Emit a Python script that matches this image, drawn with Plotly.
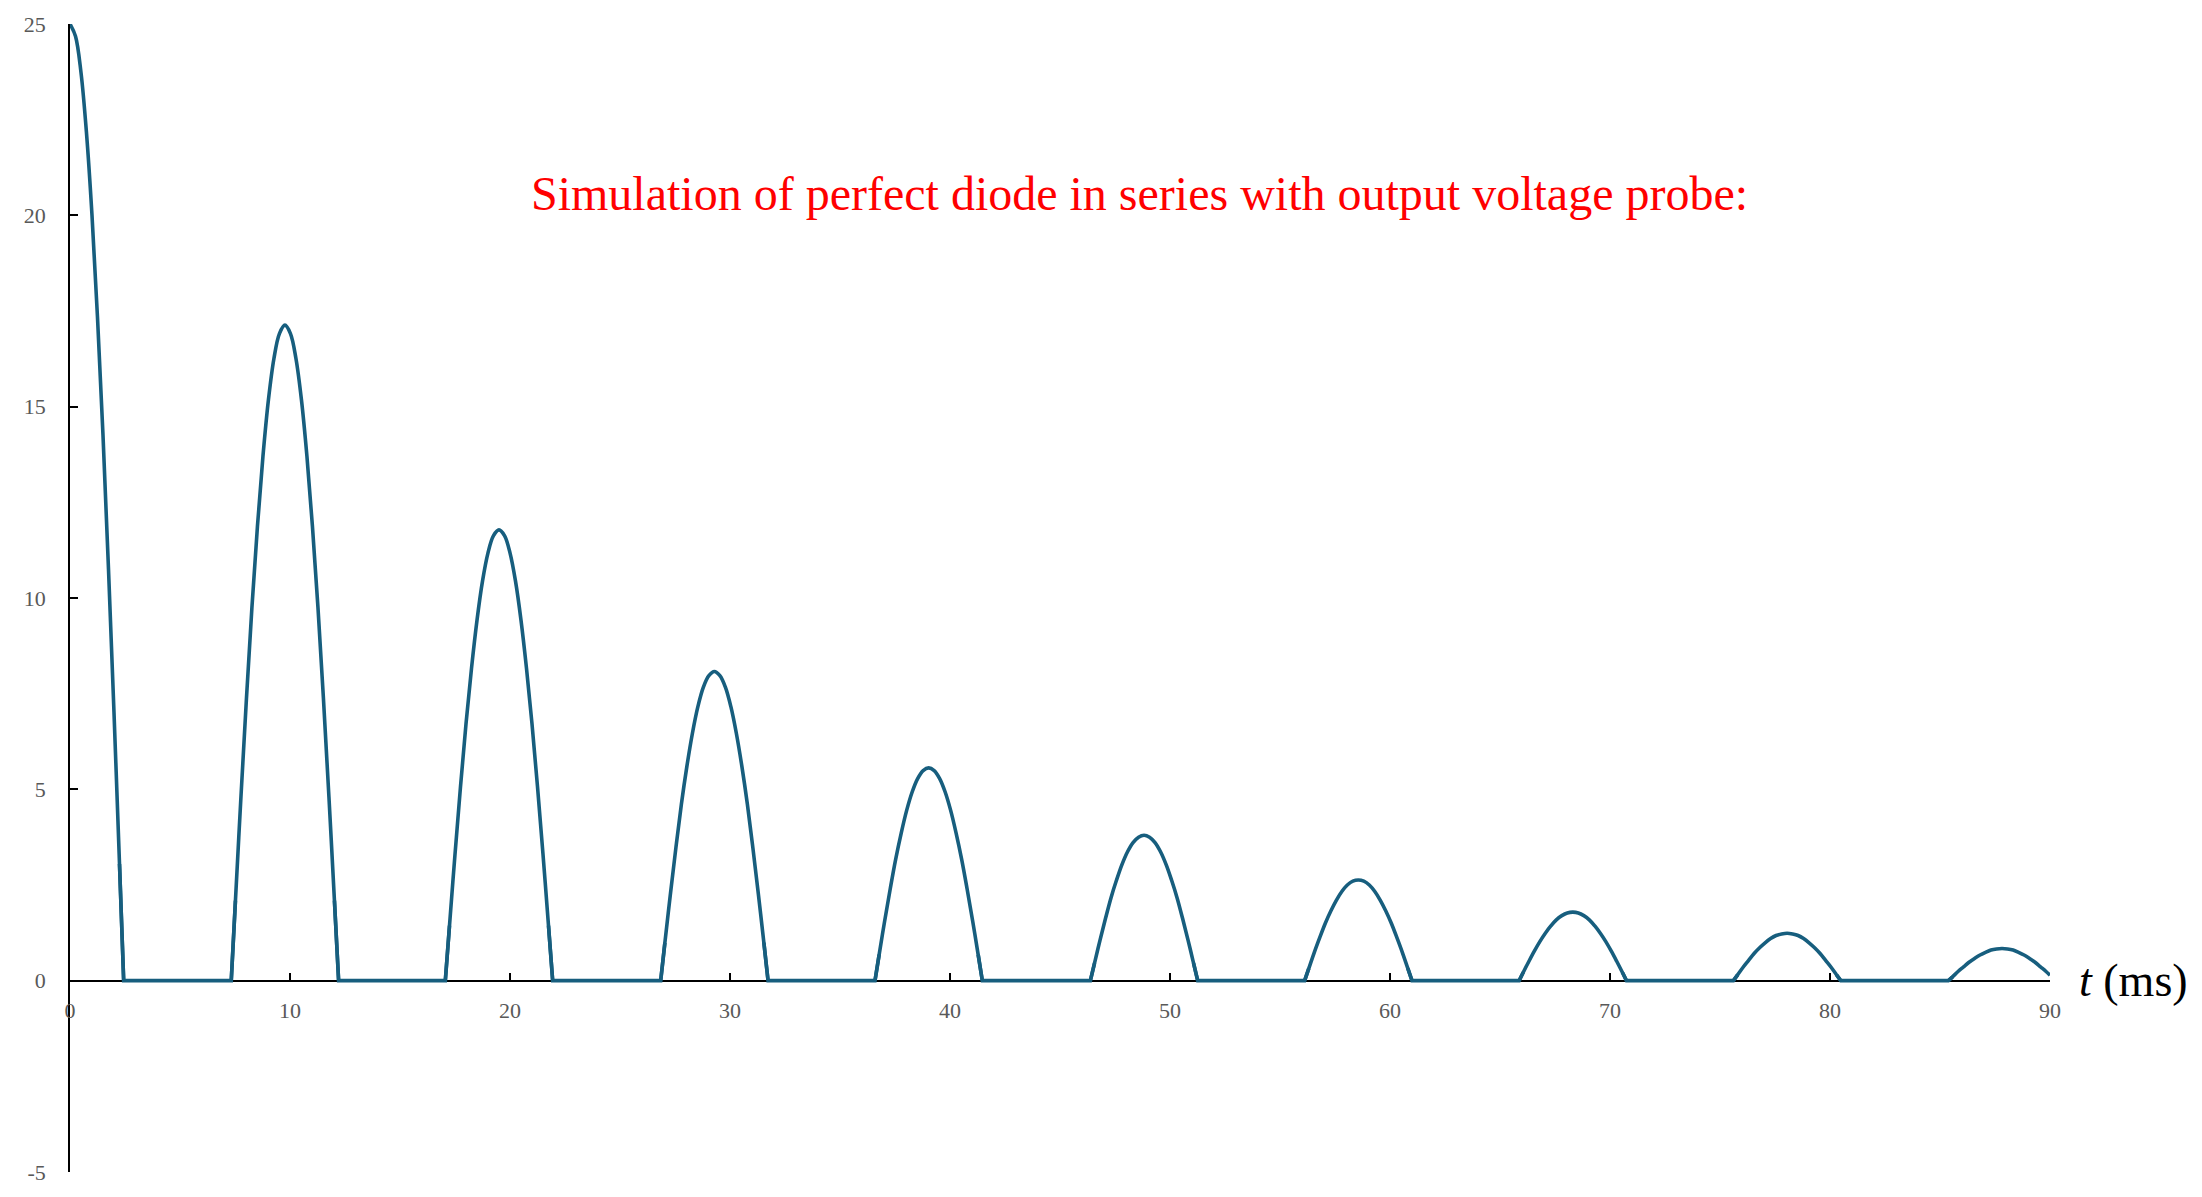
import plotly.graph_objects as go

t_ms = [
    0.00, 0.25, 0.50, 0.75, 1.00, 1.25, 1.50, 1.75, 2.00, 2.25, 2.44,
    7.33, 7.52, 7.77, 8.02, 8.27, 8.52, 8.77, 9.02, 9.27, 9.52, 9.77, 10.02, 10.27, 10.52, 10.77, 11.02, 11.27, 11.52, 11.77, 12.02, 12.21,
    17.06, 17.25, 17.50, 17.75, 18.00, 18.25, 18.50, 18.75, 19.00, 19.25, 19.50, 19.75, 20.00, 20.25, 20.50, 20.75, 21.00, 21.25, 21.50, 21.75, 21.94,
    26.85, 27.04, 27.29, 27.54, 27.79, 28.04, 28.29, 28.54, 28.79, 29.04, 29.29, 29.54, 29.79, 30.04, 30.29, 30.54, 30.79, 31.04, 31.29, 31.54, 31.73,
    36.59, 36.78, 37.03, 37.28, 37.53, 37.78, 38.03, 38.28, 38.53, 38.78, 39.03, 39.28, 39.53, 39.78, 40.03, 40.28, 40.53, 40.78, 41.03, 41.28, 41.47,
    46.38, 46.57, 46.82, 47.07, 47.32, 47.57, 47.82, 48.07, 48.32, 48.57, 48.82, 49.07, 49.32, 49.57, 49.82, 50.07, 50.32, 50.57, 50.82, 51.07, 51.26,
    56.12, 56.31, 56.56, 56.81, 57.06, 57.31, 57.56, 57.81, 58.06, 58.31, 58.56, 58.81, 59.06, 59.31, 59.56, 59.81, 60.06, 60.31, 60.56, 60.81, 61.00,
    65.87, 66.06, 66.31, 66.56, 66.81, 67.06, 67.31, 67.56, 67.81, 68.06, 68.31, 68.56, 68.81, 69.06, 69.31, 69.56, 69.81, 70.06, 70.31, 70.56, 70.75,
    75.61, 75.80, 76.05, 76.30, 76.55, 76.80, 77.05, 77.30, 77.55, 77.80, 78.05, 78.30, 78.55, 78.80, 79.05, 79.30, 79.55, 79.80, 80.05, 80.30, 80.49,
    85.38, 85.57, 85.82, 86.07, 86.32, 86.57, 86.82, 87.07, 87.32, 87.57, 87.82, 88.07, 88.32, 88.57, 88.82, 89.07, 89.32, 89.57, 89.82, 90.00,
]
volts = [
    25.00, 24.68, 23.73, 22.15, 20.00, 17.33, 14.25, 10.75, 7.00, 3.05, 0.0,
    0.0, 2.09, 4.80, 7.37, 9.76, 11.87, 13.70, 15.18, 16.26, 16.91, 17.13, 16.91, 16.26, 15.18, 13.70, 11.87, 9.76, 7.37, 4.80, 2.09, 0.0,
    0.0, 1.44, 3.30, 5.07, 6.71, 8.16, 9.42, 10.44, 11.18, 11.63, 11.78, 11.63, 11.18, 10.44, 9.42, 8.16, 6.71, 5.07, 3.30, 1.44, 0.0,
    0.0, 0.99, 2.26, 3.47, 4.61, 5.60, 6.46, 7.16, 7.67, 7.97, 8.08, 7.97, 7.67, 7.16, 6.46, 5.60, 4.61, 3.47, 2.26, 0.99, 0.0,
    0.0, 0.68, 1.56, 2.39, 3.17, 3.85, 4.45, 4.93, 5.28, 5.49, 5.56, 5.49, 5.28, 4.93, 4.45, 3.85, 3.17, 2.39, 1.56, 0.68, 0.0,
    0.0, 0.46, 1.06, 1.63, 2.17, 2.63, 3.04, 3.37, 3.61, 3.75, 3.80, 3.75, 3.61, 3.37, 3.04, 2.63, 2.17, 1.63, 1.06, 0.46, 0.0,
    0.0, 0.32, 0.74, 1.13, 1.50, 1.82, 2.10, 2.33, 2.50, 2.60, 2.63, 2.60, 2.50, 2.33, 2.10, 1.82, 1.50, 1.13, 0.74, 0.32, 0.0,
    0.0, 0.22, 0.50, 0.77, 1.02, 1.24, 1.43, 1.59, 1.70, 1.77, 1.79, 1.77, 1.70, 1.59, 1.43, 1.24, 1.02, 0.77, 0.50, 0.22, 0.0,
    0.0, 0.15, 0.35, 0.53, 0.71, 0.86, 0.99, 1.10, 1.18, 1.22, 1.24, 1.22, 1.18, 1.10, 0.99, 0.86, 0.71, 0.53, 0.35, 0.15, 0.0,
    0.0, 0.10, 0.24, 0.36, 0.48, 0.58, 0.67, 0.74, 0.80, 0.83, 0.84, 0.83, 0.80, 0.74, 0.67, 0.58, 0.48, 0.36, 0.24, 0.14,
]

x_ticks = [0, 10, 20, 30, 40, 50, 60, 70, 80, 90]
y_ticks = [-5, 0, 5, 10, 15, 20, 25]
x_range = [0, 90]
y_range = [-5, 25]
title_text = "Simulation of perfect diode in series with output voltage probe:"
x_label = "<i>t</i> (ms)"

SERIF = "Liberation Serif"
LINE_COLOR = "#175e7e"
TICK_COLOR = "#595959"
LINE_W = 3.6

# Split the series: smooth arcs for the conducting pulses, straight runs where the diode blocks (v = 0)
arc_x, arc_y = [], []
flat_x, flat_y = [], []
n = len(t_ms)
for i in range(n):
    arc_x.append(t_ms[i])
    arc_y.append(volts[i])
    if i + 1 < n and volts[i] == 0 and volts[i + 1] == 0:
        arc_x.append(None)
        arc_y.append(None)
        lo, hi = max(i - 1, 0), min(i + 3, n)
        flat_x += t_ms[lo:hi] + [None]
        flat_y += volts[lo:hi] + [None]

fig = go.Figure()
fig.add_trace(go.Scatter(
    x=flat_x, y=flat_y, mode="lines",
    line=dict(color=LINE_COLOR, width=LINE_W, shape="linear"),
    hoverinfo="skip", showlegend=False, connectgaps=False,
))
fig.add_trace(go.Scatter(
    x=arc_x, y=arc_y, mode="lines",
    line=dict(color=LINE_COLOR, width=LINE_W, shape="spline", smoothing=1.0),
    hoverinfo="skip", showlegend=False, connectgaps=False,
))

fig.update_layout(
    width=2202, height=1197,
    margin=dict(l=70, r=152, t=22, b=22),
    paper_bgcolor="white", plot_bgcolor="white",
    showlegend=False,
    font=dict(family=SERIF),
)

x0_pos = (0 - y_range[0]) / (y_range[1] - y_range[0])

fig.update_xaxes(
    range=x_range, tickvals=x_ticks, ticktext=[str(v) for v in x_ticks],
    ticks="inside", ticklen=7, tickwidth=1.5, tickcolor="black",
    showline=True, linecolor="black", linewidth=1.5,
    showgrid=False, zeroline=False,
    anchor="free", position=x0_pos,
    tickfont=dict(family=SERIF, size=22, color=TICK_COLOR),
    ticklabelstandoff=10,
    layer="below traces",
)
fig.update_yaxes(
    range=y_range, tickvals=y_ticks, ticktext=[str(v) for v in y_ticks],
    ticks="inside", ticklen=8, tickwidth=1.5, tickcolor="black",
    showline=True, linecolor="black", linewidth=1.5,
    showgrid=False, zeroline=False,
    tickfont=dict(family=SERIF, size=22, color=TICK_COLOR),
    ticklabelstandoff=18,
    layer="below traces",
)

fig.add_annotation(
    text=title_text, xref="paper", yref="paper", x=0.54, y=0.8526,
    xanchor="center", yanchor="middle", showarrow=False,
    font=dict(family=SERIF, size=48, color="red"),
)
fig.add_annotation(
    text=x_label, xref="paper", yref="y", x=1.0135, y=0,
    xanchor="left", yanchor="middle", showarrow=False,
    font=dict(family=SERIF, size=46, color="black"),
)

fig.write_html("out.html")
